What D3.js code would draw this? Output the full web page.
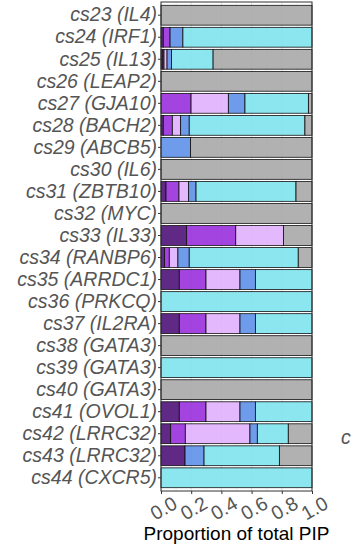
<!DOCTYPE html>
<html>
<head>
<meta charset="utf-8">
<script src="https://cdn.jsdelivr.net/npm/d3@7"></script>
<style>
  html, body { margin: 0; padding: 0; background: #fff; }
  svg { display: block; }
</style>
</head>
<body>
<svg id="chart" width="352" height="550"></svg>
<script>
// Credible sets (with nearest gene), top to bottom
const categories = [
  "cs23 (IL4)", "cs24 (IRF1)", "cs25 (IL13)", "cs26 (LEAP2)", "cs27 (GJA10)",
  "cs28 (BACH2)", "cs29 (ABCB5)", "cs30 (IL6)", "cs31 (ZBTB10)", "cs32 (MYC)",
  "cs33 (IL33)", "cs34 (RANBP6)", "cs35 (ARRDC1)", "cs36 (PRKCQ)", "cs37 (IL2RA)",
  "cs38 (GATA3)", "cs39 (GATA3)", "cs40 (GATA3)", "cs41 (OVOL1)", "cs42 (LRRC32)",
  "cs43 (LRRC32)", "cs44 (CXCR5)"
];

// Share of total PIP per annotation group, one value per credible set
const groupA = [0, 0.015, 0.012, 0, 0, 0.015, 0, 0, 0.033, 0, 0.170, 0.024, 0.121, 0, 0.121, 0, 0, 0, 0.121, 0.064, 0.159, 0];
const groupB = [0, 0.045, 0.008, 0, 0.199, 0.060, 0, 0, 0.086, 0, 0.325, 0.031, 0.177, 0, 0.177, 0, 0, 0, 0.177, 0.097, 0, 0];
const groupC = [0, 0, 0.020, 0, 0.247, 0.055, 0, 0, 0.064, 0, 0.316, 0.057, 0.225, 0, 0.225, 0, 0, 0, 0.225, 0.428, 0, 0];
const groupD = [0, 0.085, 0.030, 0, 0.110, 0.057, 0.196, 0, 0.049, 0, 0, 0.075, 0.102, 0, 0.102, 0, 0, 0, 0.102, 0.049, 0.126, 0];
const groupE = [0, 0.855, 0.275, 0, 0.420, 0.766, 0, 0, 0.662, 0, 0, 0.722, 0.375, 1, 0.375, 0, 1, 0, 0.375, 0.205, 0.499, 1];
const groupRest = [1, 0, 0.655, 1, 0.024, 0.047, 0.804, 1, 0.106, 1, 0.189, 0.091, 0, 0, 0, 1, 0, 1, 0, 0.157, 0.216, 0];

const seriesKeys = ["A", "B", "C", "D", "E", "Rest"];
const seriesValues = [groupA, groupB, groupC, groupD, groupE, groupRest];
const seriesColors = ["#4f1279", "#9a30dd", "#e1b0fc", "#5e90e8", "#80e3ee", "#a9a9a9"];

const xTicks = [0, 0.2, 0.4, 0.6, 0.8, 1.0];
const xMinorTicks = [0.1, 0.3, 0.5, 0.7, 0.9];
const xTitle = "Proportion of total PIP";

const FONT = "'Liberation Sans', Arial, Helvetica, sans-serif";
const LABEL_GREY = "#555555";

// rows for the stack layout
const rows = categories.map((cat, i) => {
  const r = { cat };
  seriesKeys.forEach((k, j) => { r[k] = seriesValues[j][i]; });
  return r;
});

const svg = d3.select("#chart");
const panel = { left: 161, right: 312, top: 2, bottom: 491 };

const x = d3.scaleLinear().domain([0, 1]).range([panel.left, panel.right]);
const y = d3.scaleBand().domain(categories).range([panel.top, panel.bottom])
  .paddingInner(0.1).paddingOuter(0.15);
const color = d3.scaleOrdinal().domain(seriesKeys).range(seriesColors);

// panel background and grid
svg.append("rect")
  .attr("x", panel.left).attr("y", panel.top)
  .attr("width", panel.right - panel.left).attr("height", panel.bottom - panel.top)
  .attr("fill", "#fff");

svg.append("g").selectAll("line").data(xMinorTicks).join("line")
  .attr("x1", d => x(d)).attr("x2", d => x(d))
  .attr("y1", panel.top).attr("y2", panel.bottom)
  .attr("stroke", "#ebebeb").attr("stroke-width", 0.6);
svg.append("g").selectAll("line").data(xTicks).join("line")
  .attr("x1", d => x(d)).attr("x2", d => x(d))
  .attr("y1", panel.top).attr("y2", panel.bottom)
  .attr("stroke", "#e3e3e3").attr("stroke-width", 1.1);

// stacked bars
const stacked = d3.stack().keys(seriesKeys)(rows);
svg.append("g").selectAll("g").data(stacked).join("g")
  .attr("fill", d => color(d.key))
  .selectAll("rect")
  .data(d => d.filter(s => s[1] - s[0] > 0))
  .join("rect")
  .attr("x", d => x(d[0]))
  .attr("y", d => y(d.data.cat))
  .attr("width", d => x(d[1]) - x(d[0]))
  .attr("height", y.bandwidth())
  .attr("fill-opacity", 0.9)
  .attr("stroke", "#111")
  .attr("stroke-width", 0.8);

// panel border
svg.append("rect")
  .attr("x", panel.left).attr("y", panel.top)
  .attr("width", panel.right - panel.left).attr("height", panel.bottom - panel.top)
  .attr("fill", "none").attr("stroke", "#333").attr("stroke-width", 1);

// y axis
const yAxis = svg.append("g")
  .attr("transform", `translate(${panel.left},0)`)
  .call(d3.axisLeft(y).tickSize(3).tickPadding(1));
yAxis.attr("font-family", null).attr("font-size", null);
yAxis.select(".domain").remove();
yAxis.selectAll(".tick line").attr("stroke", "#333");
yAxis.selectAll(".tick text")
  .attr("fill", LABEL_GREY)
  .attr("font-family", FONT)
  .attr("font-style", "italic")
  .attr("font-size", 19.5);

// x axis
const xAxis = svg.append("g")
  .attr("transform", `translate(0,${panel.bottom})`)
  .call(d3.axisBottom(x).tickValues(xTicks).tickFormat(d3.format(".1f")).tickSize(3));
xAxis.attr("font-family", null).attr("font-size", null);
xAxis.select(".domain").remove();
xAxis.selectAll(".tick line").attr("stroke", "#333");
xAxis.selectAll(".tick text")
  .attr("fill", LABEL_GREY)
  .attr("y", 0).attr("dy", null)
  .attr("text-anchor", "middle")
  .attr("dominant-baseline", "central")
  .attr("transform", "translate(2,17) rotate(-30)")
  .attr("font-family", FONT)
  .attr("font-size", 19.5);

// axis title
svg.append("text")
  .attr("x", (panel.left + panel.right) / 2)
  .attr("y", 540)
  .attr("text-anchor", "middle")
  .attr("fill", "#000")
  .attr("font-family", FONT)
  .attr("font-size", 19)
  .text(xTitle);

// start of the neighbouring panel's label, cut at the edge
svg.append("text")
  .attr("x", 341)
  .attr("y", 444)
  .attr("fill", LABEL_GREY)
  .attr("font-family", FONT)
  .attr("font-style", "italic")
  .attr("font-size", 19.5)
  .text("c");
</script>
</body>
</html>
